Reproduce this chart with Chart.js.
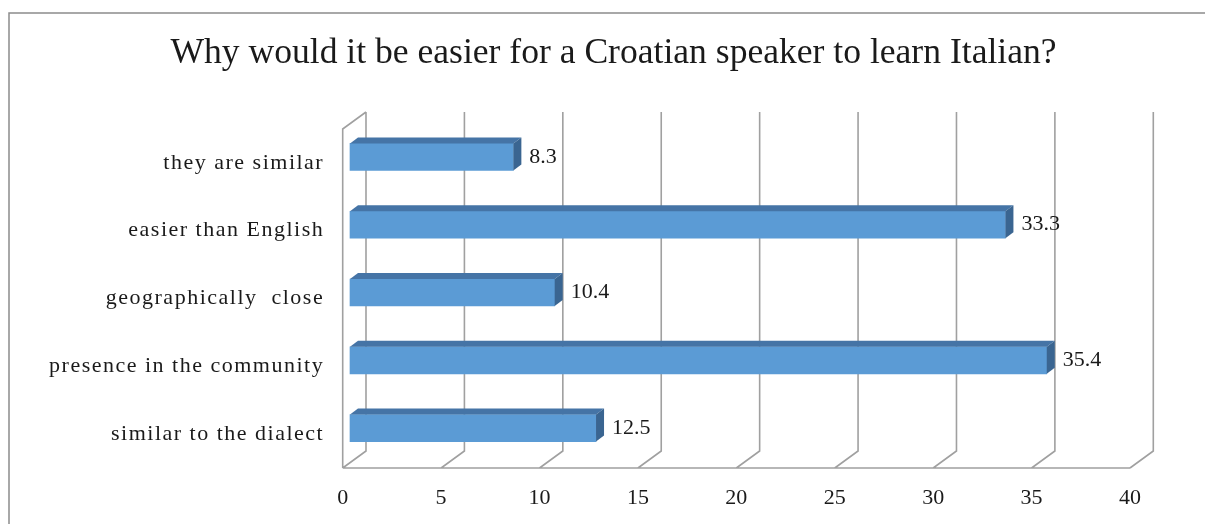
<!DOCTYPE html>
<html>
<head>
<meta charset="utf-8">
<title>Croatian speakers learning Italian</title>
<script src="https://cdn.jsdelivr.net/npm/chart.js@4.4.1/dist/chart.umd.min.js"></script>
<style>
  html, body { margin: 0; padding: 0; background: #fff; }
  #wrap { position: relative; width: 1205px; height: 524px; }
</style>
</head>
<body>
<div id="wrap"><canvas id="reasonsChart"></canvas></div>
<script>
// answers, listed top to bottom
const reasons = ['they are similar', 'easier than English', 'geographically  close', 'presence in the community', 'similar to the dialect'];
const percents = [8.3, 33.3, 10.4, 35.4, 12.5];
const axisMax = 40;
const axisStep = 5;

// fake 3D: depth of the floor / back wall, where the bars sit, and bar depth
const wallDepth = { x: 23.3, y: -17 };
const barShift = { x: 7.3, y: -6 };
const barDepth = { x: 8, y: -6 };
const serif = "'Liberation Serif', 'Times New Roman', serif";
const textColor = '#1a1a1a';

// category axis with loosely spaced labels that may run past the axis box
class SpacedCategoryScale extends Chart.CategoryScale {
  _computeLabelArea() { return undefined; }
  drawLabels(area) {
    this.ctx.save();
    this.ctx.letterSpacing = '1.5px';
    super.drawLabels(area);
    this.ctx.restore();
  }
}
SpacedCategoryScale.id = 'spacedCategory';
SpacedCategoryScale.defaults = Chart.CategoryScale.defaults;
Chart.register(SpacedCategoryScale);

const box3d = {
  id: 'box3d',
  beforeDraw(chart) {
    const ctx = chart.ctx;
    ctx.save();
    ctx.strokeStyle = '#8c8c8c';
    ctx.lineWidth = 1.5;
    ctx.strokeRect(9, 13, chart.width + 20, chart.height + 20);
    ctx.restore();
  },
  beforeDatasetsDraw(chart) {
    const { ctx, chartArea: a, scales: { x } } = chart;
    ctx.save();
    ctx.strokeStyle = '#a0a0a0';
    ctx.lineWidth = 1.6;
    ctx.beginPath();
    // left wall
    ctx.moveTo(a.left, a.bottom);
    ctx.lineTo(a.left, a.top);
    ctx.lineTo(a.left + wallDepth.x, a.top + wallDepth.y);
    // front edge of the floor
    ctx.moveTo(a.left, a.bottom);
    ctx.lineTo(a.right, a.bottom);
    // floor lines and back wall grid
    x.ticks.forEach(t => {
      const px = x.getPixelForValue(t.value);
      ctx.moveTo(px, a.bottom);
      ctx.lineTo(px + wallDepth.x, a.bottom + wallDepth.y);
      ctx.lineTo(px + wallDepth.x, a.top + wallDepth.y);
    });
    ctx.stroke();
    ctx.restore();
    // bars stand a bit behind the front edge
    ctx.save();
    ctx.translate(barShift.x, barShift.y);
  },
  afterDatasetsDraw(chart) {
    const ctx = chart.ctx;
    chart.getDatasetMeta(0).data.forEach((bar, i) => {
      const { x, y, base, height } = bar.getProps(['x', 'y', 'base', 'height'], true);
      const top = y - height / 2, bottom = y + height / 2;
      // top face
      ctx.fillStyle = '#4574a6';
      ctx.beginPath();
      ctx.moveTo(base, top);
      ctx.lineTo(base + barDepth.x, top + barDepth.y);
      ctx.lineTo(x + barDepth.x, top + barDepth.y);
      ctx.lineTo(x, top);
      ctx.closePath();
      ctx.fill();
      // end face
      ctx.fillStyle = '#3a6591';
      ctx.beginPath();
      ctx.moveTo(x, top);
      ctx.lineTo(x + barDepth.x, top + barDepth.y);
      ctx.lineTo(x + barDepth.x, bottom + barDepth.y);
      ctx.lineTo(x, bottom);
      ctx.closePath();
      ctx.fill();
      // value
      ctx.fillStyle = textColor;
      ctx.font = '22px ' + serif;
      ctx.textAlign = 'left';
      ctx.textBaseline = 'middle';
      ctx.fillText(percents[i].toFixed(1), x + 16, y);
    });
    ctx.restore();
  }
};

new Chart(document.getElementById('reasonsChart'), {
  type: 'bar',
  data: {
    labels: reasons,
    datasets: [{
      data: percents,
      backgroundColor: '#5b9bd5',
      barThickness: 27,
      clip: false
    }]
  },
  options: {
    indexAxis: 'y',
    responsive: true,
    maintainAspectRatio: false,
    animation: false,
    layout: { padding: { left: 97, right: 75, top: 0, bottom: 0 } },
    plugins: {
      legend: { display: false },
      tooltip: { enabled: false },
      title: {
        display: true,
        text: 'Why would it be easier for a Croatian speaker to learn Italian?',
        color: textColor,
        font: { family: serif, size: 35.6, weight: 'normal' },
        padding: { top: 32.6, bottom: 53.7 }
      }
    },
    scales: {
      x: {
        min: 0,
        max: axisMax,
        ticks: { stepSize: axisStep, padding: 17, color: textColor, font: { family: serif, size: 22 } },
        grid: { display: false, drawTicks: false },
        border: { display: false },
        afterFit: s => { s.height = 56; }
      },
      y: {
        type: 'spacedCategory',
        ticks: { padding: 18.5, color: textColor, font: { family: serif, size: 22 } },
        grid: { display: false, drawTicks: false },
        border: { display: false },
        afterFit: s => { s.width = 245.7; }
      }
    }
  },
  plugins: [box3d]
});
</script>
</body>
</html>
